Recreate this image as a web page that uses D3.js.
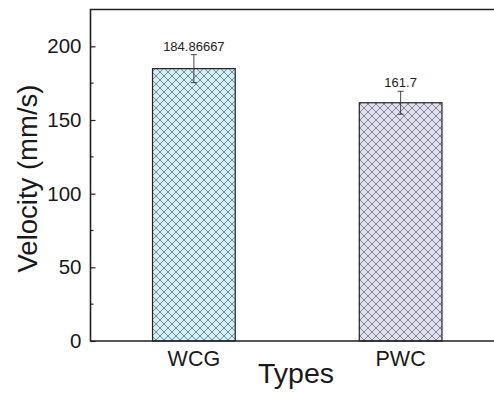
<!DOCTYPE html>
<html>
<head>
<meta charset="utf-8">
<script src="https://cdn.jsdelivr.net/npm/d3@7"></script>
<style>
  html, body { margin: 0; padding: 0; background: #fff; }
  svg { display: block; font-family: "Liberation Sans", Arial, sans-serif; }
</style>
</head>
<body>
<script>
// data
const categories = ["WCG", "PWC"];
const velocity = [184.86667, 161.7];
const errors = [9.5, 7.8];
const valueLabels = ["184.86667", "161.7"];
const yTicks = [0, 50, 100, 150, 200];
const yMinorTicks = [25, 75, 125, 175];

const fills = ["#d3eef4", "#e1e1ee"];
const hatch = ["#55737e", "#6c6c7c"];

const width = 494, height = 396;
const plotLeft = 90.5, plotTop = 9.5, plotBottom = 341, plotRight = 504;

const svg = d3.select("body").append("svg")
  .attr("width", width)
  .attr("height", height);

const x = d3.scalePoint().domain(categories).range([plotLeft, plotRight]).padding(0.5);
const y = d3.scaleLinear().domain([0, 225]).range([plotBottom, plotTop]);
const barW = x.step() * 0.4;

// crosshatch patterns
const defs = svg.append("defs");
categories.forEach((c, i) => {
  const p = defs.append("pattern")
    .attr("id", "hatch" + i)
    .attr("patternUnits", "userSpaceOnUse")
    .attr("width", 8).attr("height", 8);
  p.append("rect").attr("width", 8).attr("height", 8).attr("fill", fills[i]);
  p.append("path")
    .attr("d", "M0,0 L8,8 M8,0 L0,8 M-1,7 L1,9 M7,-1 L9,1 M-1,1 L1,-1 M7,9 L9,7")
    .attr("stroke", hatch[i])
    .attr("stroke-width", 0.8)
    .attr("fill", "none");
});

// bars
svg.selectAll("rect.bar")
  .data(categories)
  .join("rect")
    .attr("class", "bar")
    .attr("x", d => x(d) - barW / 2)
    .attr("y", (d, i) => y(velocity[i]))
    .attr("width", barW)
    .attr("height", (d, i) => y(0) - y(velocity[i]))
    .attr("fill", (d, i) => `url(#hatch${i})`)
    .attr("stroke", "#222")
    .attr("stroke-width", 1.2);

// error bars
const eb = svg.selectAll("g.err")
  .data(categories)
  .join("g")
    .attr("class", "err")
    .attr("stroke", "#333")
    .attr("stroke-width", 0.9);
eb.append("line")
  .attr("x1", d => x(d)).attr("x2", d => x(d))
  .attr("y1", (d, i) => y(velocity[i] + errors[i]))
  .attr("y2", (d, i) => y(velocity[i] - errors[i]));
eb.append("line")
  .attr("x1", d => x(d) - 3).attr("x2", d => x(d) + 3)
  .attr("y1", (d, i) => y(velocity[i] + errors[i]))
  .attr("y2", (d, i) => y(velocity[i] + errors[i]));
eb.append("line")
  .attr("x1", d => x(d) - 3).attr("x2", d => x(d) + 3)
  .attr("y1", (d, i) => y(velocity[i] - errors[i]))
  .attr("y2", (d, i) => y(velocity[i] - errors[i]));

// value labels
svg.selectAll("text.val")
  .data(categories)
  .join("text")
    .attr("class", "val")
    .attr("x", d => x(d))
    .attr("y", (d, i) => y(velocity[i] + errors[i]) - 4)
    .attr("text-anchor", "middle")
    .attr("font-size", 13)
    .attr("fill", "#222")
    .text((d, i) => valueLabels[i]);

// y axis
const yAxis = svg.append("g")
  .attr("transform", `translate(${plotLeft},0)`)
  .call(d3.axisLeft(y).tickValues(yTicks).tickSize(-5).tickPadding(9));
yAxis.select(".domain").remove();
yAxis.selectAll(".tick line").attr("stroke", "#222").attr("stroke-width", 1.2);
yAxis.selectAll(".tick text")
  .attr("font-size", 20.5)
  .attr("fill", "#1a1a1a")
  .attr("font-family", "Liberation Sans, Arial, sans-serif");

svg.append("g").selectAll("line")
  .data(yMinorTicks)
  .join("line")
    .attr("x1", plotLeft).attr("x2", plotLeft + 3)
    .attr("y1", d => y(d)).attr("y2", d => y(d))
    .attr("stroke", "#222").attr("stroke-width", 1.2);

// frame
svg.append("path")
  .attr("d", `M${plotRight},${plotTop} H${plotLeft} V${plotBottom} H${plotRight}`)
  .attr("fill", "none")
  .attr("stroke", "#222")
  .attr("stroke-width", 1.6);

// x labels
svg.selectAll("text.cat")
  .data(categories)
  .join("text")
    .attr("class", "cat")
    .attr("x", d => x(d))
    .attr("y", 366)
    .attr("text-anchor", "middle")
    .attr("font-size", 21.5)
    .attr("fill", "#1a1a1a")
    .text(d => d);

// axis titles
svg.append("text")
  .attr("x", 296)
  .attr("y", 383)
  .attr("text-anchor", "middle")
  .attr("font-size", 28.5)
  .attr("fill", "#1a1a1a")
  .text("Types");

svg.append("text")
  .attr("transform", `translate(37,178.5) rotate(-90)`)
  .attr("text-anchor", "middle")
  .attr("font-size", 27.5)
  .attr("fill", "#1a1a1a")
  .text("Velocity (mm/s)");
</script>
</body>
</html>
